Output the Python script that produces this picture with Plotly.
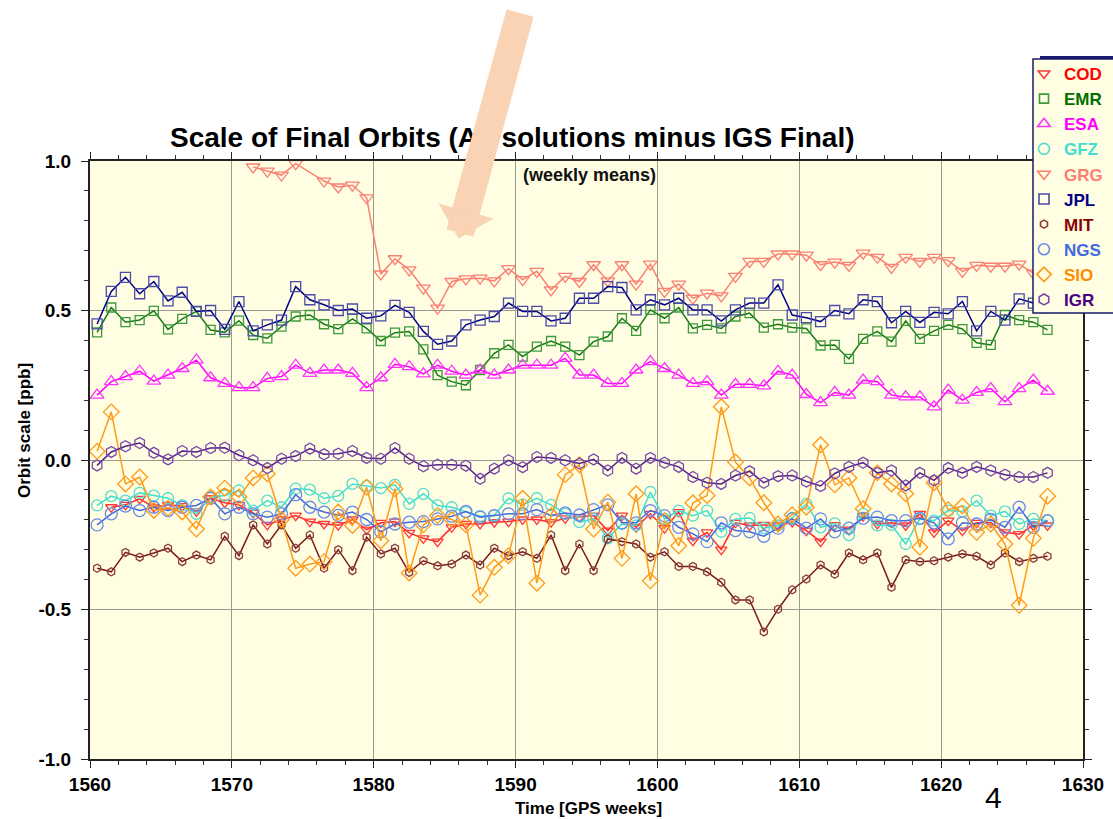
import plotly.graph_objects as go

# ---------------- data ----------------
weeks = list(range(1560, 1628))  # GPS weeks; weekly means plotted at mid-week

COD = [None, -0.158, -0.150, -0.130, -0.158, -0.150, -0.154, -0.172, -0.128, -0.143,
       -0.150, -0.177, -0.217, -0.199, -0.186, -0.206, -0.214, -0.218, -0.199, -0.233,
       -0.210, -0.206, -0.244, -0.262, -0.273, -0.225, -0.214, -0.214, -0.208, -0.206,
       -0.199, -0.199, -0.208, -0.195, -0.191, -0.186, -0.236, -0.186, -0.225, -0.180,
       -0.228, -0.174, -0.270, -0.242, -0.300, -0.210, -0.219, -0.217, -0.219, -0.208,
       -0.236, -0.273, -0.218, -0.233, -0.188, -0.214, -0.210, -0.219, -0.180, -0.242,
       -0.203, -0.236, -0.210, -0.210, -0.242, -0.248, -0.219, -0.219]
EMR = [0.427, 0.510, 0.461, 0.468, 0.499, 0.437, 0.472, 0.497, 0.435, 0.427,
       0.466, 0.418, 0.407, 0.446, 0.480, 0.485, 0.454, 0.438, 0.472, 0.440,
       0.398, 0.426, 0.430, 0.370, 0.284, 0.262, 0.250, 0.301, 0.357, 0.385,
       0.346, 0.379, 0.398, 0.379, 0.351, 0.396, 0.413, 0.474, 0.432, 0.502,
       0.474, 0.510, 0.440, 0.452, 0.440, 0.480, 0.491, 0.443, 0.454, 0.443,
       0.440, 0.383, 0.385, 0.338, 0.405, 0.430, 0.396, 0.465, 0.405, 0.432,
       0.452, 0.438, 0.392, 0.385, 0.485, 0.468, 0.461, 0.435]
ESA = [0.217, 0.262, 0.279, 0.297, 0.264, 0.284, 0.306, 0.334, 0.275, 0.256,
       0.242, 0.242, 0.273, 0.279, 0.317, 0.290, 0.301, 0.301, 0.290, 0.242,
       0.275, 0.320, 0.312, 0.288, 0.317, 0.297, 0.284, 0.301, 0.284, 0.301,
       0.317, 0.317, 0.317, 0.340, 0.284, 0.284, 0.256, 0.256, 0.301, 0.329,
       0.306, 0.284, 0.256, 0.262, 0.217, 0.253, 0.253, 0.248, 0.297, 0.284,
       0.219, 0.192, 0.226, 0.217, 0.267, 0.262, 0.217, 0.211, 0.211, 0.178,
       0.234, 0.200, 0.226, 0.239, 0.195, 0.239, 0.267, 0.230]
GFZ = [-0.152, -0.121, -0.136, -0.110, -0.119, -0.128, -0.152, -0.180, -0.124, -0.119,
       -0.102, -0.169, -0.136, -0.158, -0.096, -0.099, -0.128, -0.120, -0.080, -0.087,
       -0.094, -0.083, -0.147, -0.113, -0.152, -0.158, -0.174, -0.188, -0.185, -0.128,
       -0.150, -0.128, -0.150, -0.180, -0.208, -0.197, -0.262, -0.214, -0.219, -0.107,
       -0.197, -0.169, -0.186, -0.169, -0.240, -0.197, -0.194, -0.228, -0.219, -0.194,
       -0.147, -0.225, -0.212, -0.251, -0.180, -0.219, -0.217, -0.281, -0.197, -0.203,
       -0.169, -0.172, -0.136, -0.186, -0.172, -0.214, -0.197, -0.203]
GRG = [None, None, None, None, None, None, None, None, None, None,
       None, 0.980, 0.966, 0.953, 0.991, None, 0.933, 0.913, 0.919, 0.877,
       0.622, 0.673, 0.636, 0.575, 0.508, 0.597, 0.606, 0.608, 0.599, 0.640,
       0.603, 0.631, 0.569, 0.614, 0.597, 0.653, 0.599, 0.653, 0.588, 0.655,
       0.564, 0.588, 0.541, 0.558, 0.549, 0.614, 0.664, 0.664, 0.689, 0.689,
       0.685, 0.653, 0.662, 0.651, 0.692, 0.678, 0.644, 0.678, 0.664, 0.678,
       0.667, 0.631, 0.651, 0.648, 0.648, 0.655, 0.625, 0.625]
JPL = [0.455, 0.564, 0.611, 0.556, 0.597, 0.532, 0.561, 0.497, 0.500, 0.437,
       0.530, 0.432, 0.452, 0.468, 0.580, 0.536, 0.519, 0.500, 0.505, 0.474,
       0.482, 0.517, 0.494, 0.430, 0.387, 0.398, 0.452, 0.468, 0.480, 0.525,
       0.497, 0.497, 0.465, 0.474, 0.541, 0.541, 0.580, 0.577, 0.502, 0.536,
       0.519, 0.541, 0.502, 0.502, 0.465, 0.502, 0.525, 0.525, 0.586, 0.485,
       0.476, 0.463, 0.500, 0.489, 0.536, 0.530, 0.459, 0.497, 0.460, 0.494,
       0.489, 0.530, 0.432, 0.497, 0.468, 0.539, 0.525, 0.510]
MIT = [-0.362, -0.374, -0.309, -0.325, -0.311, -0.295, -0.340, -0.318, -0.334, -0.255,
       -0.320, -0.217, -0.281, -0.217, -0.295, -0.251, -0.362, -0.300, -0.370, -0.258,
       -0.314, -0.295, -0.376, -0.337, -0.354, -0.348, -0.318, -0.351, -0.295, -0.320,
       -0.307, -0.329, -0.251, -0.370, -0.281, -0.370, -0.264, -0.273, -0.281, -0.325,
       -0.307, -0.356, -0.356, -0.374, -0.409, -0.468, -0.468, -0.575, -0.499, -0.434,
       -0.398, -0.351, -0.382, -0.311, -0.334, -0.311, -0.426, -0.334, -0.340, -0.337,
       -0.325, -0.314, -0.322, -0.351, -0.311, -0.340, -0.329, -0.322]
NGS = [-0.217, -0.180, -0.154, -0.169, -0.158, -0.169, -0.158, -0.152, -0.128, -0.180,
       -0.158, -0.180, -0.191, -0.180, -0.116, -0.158, -0.174, -0.185, -0.174, -0.199,
       -0.240, -0.214, -0.208, -0.206, -0.197, -0.188, -0.172, -0.191, -0.186, -0.180,
       -0.180, -0.166, -0.186, -0.177, -0.184, -0.166, -0.150, -0.210, -0.210, -0.169,
       -0.186, -0.225, -0.247, -0.273, -0.210, -0.236, -0.240, -0.255, -0.228, -0.197,
       -0.228, -0.197, -0.240, -0.228, -0.195, -0.191, -0.203, -0.203, -0.195, -0.210,
       -0.264, -0.210, -0.214, -0.199, -0.225, -0.158, -0.225, -0.203]
SIO = [0.029, 0.161, -0.080, -0.057, -0.169, -0.161, -0.174, -0.231, -0.124, -0.094,
       -0.124, -0.060, -0.046, -0.199, -0.362, -0.348, -0.340, -0.174, -0.219, -0.091,
       -0.270, -0.096, -0.378, -0.217, -0.186, -0.199, -0.217, -0.452, -0.359, -0.320,
       -0.128, -0.412, -0.186, -0.049, -0.016, -0.231, -0.141, -0.329, -0.113, -0.404,
       -0.203, -0.287, -0.143, -0.119, 0.178, -0.007, -0.060, -0.143, -0.214, -0.183,
       -0.158, 0.051, -0.083, -0.060, -0.163, -0.043, -0.080, -0.113, -0.292, -0.076,
       -0.166, -0.154, -0.242, -0.214, -0.281, -0.486, -0.262, -0.121]
IGR = [-0.018, 0.027, 0.046, 0.057, 0.024, 0.002, 0.030, 0.027, 0.040, 0.041,
       0.016, -0.001, -0.027, 0.004, 0.013, 0.038, 0.019, 0.021, 0.030, 0.007,
       0.004, 0.040, 0.004, -0.021, -0.016, -0.016, -0.019, -0.063, -0.029, -0.001,
       -0.024, 0.010, 0.007, -0.001, -0.012, 0.002, -0.035, 0.007, -0.029, 0.007,
       -0.009, -0.023, -0.057, -0.076, -0.080, -0.052, -0.038, -0.076, -0.054, -0.052,
       -0.072, -0.087, -0.045, -0.023, -0.009, -0.043, -0.035, -0.085, -0.043, -0.068,
       -0.027, -0.043, -0.023, -0.035, -0.049, -0.057, -0.057, -0.043]

names = ["COD", "EMR", "ESA", "GFZ", "GRG", "JPL", "MIT", "NGS", "SIO", "IGR"]
series = [COD, EMR, ESA, GFZ, GRG, JPL, MIT, NGS, SIO, IGR]

x_ticks = [1560, 1570, 1580, 1590, 1600, 1610, 1620, 1630]
y_ticks = [-1.0, -0.5, 0.0, 0.5, 1.0]
y_ticklabels = ["-1.0", "-0.5", "0.0", "0.5", "1.0"]

# ---------------- styles ----------------
styles = {
    "COD": dict(line="#ff2a2a", mk="#ff3b3b", txt="#ff0000", sym="triangle-down-open", size=10),
    "EMR": dict(line="#177a17", mk="#3d9a3d", txt="#006e00", sym="square-open", size=9),
    "ESA": dict(line="#ff00ff", mk="#ff33ff", txt="#ff00ff", sym="triangle-up-open", size=12),
    "GFZ": dict(line="#40e0d0", mk="#55dccf", txt="#40e0d0", sym="circle-open", size=11),
    "GRG": dict(line="#fa8072", mk="#fa8072", txt="#fa8072", sym="triangle-down-open", size=12),
    "JPL": dict(line="#00008b", mk="#4b4ba8", txt="#00008b", sym="square-open", size=10),
    "MIT": dict(line="#7a1a1a", mk="#8b3b3b", txt="#8b0000", sym="hexagon-open", size=8),
    "NGS": dict(line="#4169e1", mk="#6a8bea", txt="#4169e1", sym="circle-open", size=12),
    "SIO": dict(line="#ff9a1a", mk="#ff9a1a", txt="#ff8c00", sym="diamond-open", size=12),
    "IGR": dict(line="#55228b", mk="#7a4aaa", txt="#4b0082", sym="hexagon-open", size=11),
}

W, H = 1113, 819
L, R, T, B = 90, 1083, 161, 759  # plot area in pixels


def px(xp):
    return (xp - L) / (R - L)


def py(yp):
    return (B - yp) / (B - T)


FONT = "Liberation Sans"
xmid = [w + 0.5 for w in weeks]

fig = go.Figure()
for nm, vals in zip(names, series):
    st = styles[nm]
    fig.add_trace(go.Scatter(
        x=xmid, y=vals, mode="lines+markers", name=nm, showlegend=False,
        connectgaps=True,
        line=dict(color=st["line"], width=1.5),
        marker=dict(symbol=st["sym"], size=st["size"], color=st["mk"],
                    line=dict(width=1.3, color=st["mk"])),
        hoverinfo="x+y+name", cliponaxis=True,
    ))

# legend entries (symbol only, coloured names)
for nm in names:
    st = styles[nm]
    fig.add_trace(go.Scatter(
        x=[None], y=[None], mode="markers",
        name='<span style="color:%s">%s</span>' % (st["txt"], nm),
        marker=dict(symbol=st["sym"], size=min(st["size"], 11), color=st["mk"],
                    line=dict(width=1.6, color=st["mk"])),
        showlegend=True,
    ))

annotations = [
    dict(text="Scale of Final Orbits (All solutions minus IGS Final)",
         x=px(512), y=py(137), xref="paper", yref="paper", showarrow=False,
         xanchor="center", yanchor="middle",
         font=dict(family=FONT, size=28, color="black", weight="bold")),
    dict(text="(weekly means)", x=px(589), y=py(175), xref="paper", yref="paper",
         showarrow=False, xanchor="center", yanchor="middle",
         font=dict(family=FONT, size=18, color="#111111", weight="bold")),
    dict(text="Orbit scale [ppb]", x=px(24), y=py(431), xref="paper", yref="paper",
         showarrow=False, textangle=-90, xanchor="center", yanchor="middle",
         font=dict(family=FONT, size=17, color="black", weight="bold")),
    dict(text="Time [GPS weeks]", x=px(588), y=py(808), xref="paper", yref="paper",
         showarrow=False, xanchor="center", yanchor="middle",
         font=dict(family=FONT, size=17, color="black", weight="bold")),
    dict(text="4", x=px(993), y=py(797), xref="paper", yref="paper",
         showarrow=False, xanchor="center", yanchor="middle",
         font=dict(family=FONT, size=30, color="black")),
    # big peach arrow pointing at the GRG drop (drawn after the title, so on top)
    dict(text="", x=px(458.5), y=py(238.5), xref="paper", yref="paper",
         ax=62, ay=-227, axref="pixel", ayref="pixel",
         showarrow=True, arrowhead=1, arrowwidth=28, arrowsize=0.34,
         arrowcolor="#f9d3b4", standoff=0),
]

shapes = [
    # legend box
    dict(type="rect", xref="paper", yref="paper",
         x0=px(1033), x1=px(1130), y0=py(313), y1=py(59),
         fillcolor="#fffde2", line=dict(color="#1a1a6e", width=1.5), layer="above"),
    dict(type="line", xref="paper", yref="paper",
         x0=px(1040), x1=px(1130), y0=py(57.5), y1=py(57.5),
         line=dict(color="#1a1a6e", width=3), layer="above"),
]

fig.update_layout(
    width=W, height=H,
    margin=dict(l=L, r=W - R, t=T, b=H - B, autoexpand=False),
    paper_bgcolor="white",
    plot_bgcolor="#fffde2",
    font=dict(family=FONT, color="black"),
    showlegend=True,
    legend=dict(
        x=px(1024), y=py(56), xanchor="left", yanchor="top",
        bgcolor="rgba(0,0,0,0)", borderwidth=0,
        font=dict(family=FONT, size=17, weight="bold"),
        itemwidth=30, tracegroupgap=0,
    ),
    annotations=annotations,
    shapes=shapes,
    xaxis=dict(
        range=[1560, 1630], tickmode="array", tickvals=x_ticks,
        ticktext=[str(t) for t in x_ticks],
        showgrid=True, gridcolor="#9a9a90", gridwidth=1,
        zeroline=False, showline=True, linecolor="#222222", linewidth=2,
        mirror="ticks", ticks="outside", ticklen=7, tickwidth=1.2, tickcolor="#222222",
        minor=dict(dtick=2, ticks="outside", ticklen=4, tickwidth=1, tickcolor="#333333",
                   showgrid=False),
        tickfont=dict(family=FONT, size=19, color="black", weight="bold"),
    ),
    yaxis=dict(
        range=[-1, 1], tickmode="array", tickvals=y_ticks, ticktext=y_ticklabels,
        showgrid=True, gridcolor="#9a9a90", gridwidth=1,
        zeroline=False, showline=True, linecolor="#222222", linewidth=2,
        mirror="ticks", ticks="outside", ticklen=7, tickwidth=1.2, tickcolor="#222222",
        minor=dict(dtick=0.1, ticks="outside", ticklen=4, tickwidth=1, tickcolor="#333333",
                   showgrid=False),
        ticklabelstandoff=6,
        tickfont=dict(family=FONT, size=19, color="black", weight="bold"),
    ),
)

fig.write_html("out.html",
               config={"displayModeBar": False},
               post_script="document.body.style.margin='0';document.body.style.overflow='hidden';")
